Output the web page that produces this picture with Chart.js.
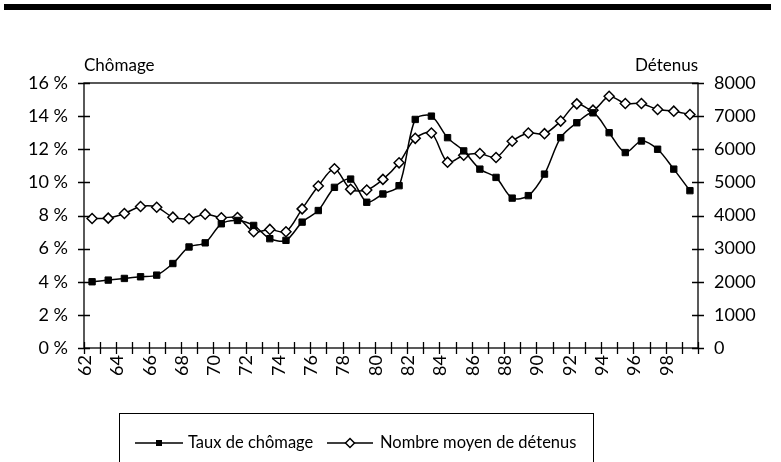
<!DOCTYPE html>
<html>
<head>
<meta charset="utf-8">
<script src="https://cdn.jsdelivr.net/npm/chart.js@4.4.1/dist/chart.umd.min.js"></script>
<style>
  html, body { margin: 0; padding: 0; background: #fff; }
  #wrap { width: 781px; height: 462px; }
</style>
</head>
<body>
<div id="wrap"><canvas id="chart" width="781" height="462"></canvas></div>
<script>
// years 1962 -> 1999
let years = ["62","63","64","65","66","67","68","69","70","71","72","73","74","75","76","77","78","79","80",
  "81","82","83","84","85","86","87","88","89","90","91","92","93","94","95","96","97","98","99"];

// taux de chomage (%)
let chomage = [4.0, 4.1, 4.2, 4.3, 4.4, 5.1, 6.1, 6.35, 7.5, 7.7, 7.4, 6.6, 6.5, 7.6, 8.3, 9.7, 10.2, 8.8, 9.3,
  9.8, 13.8, 14.0, 12.7, 11.9, 10.8, 10.3, 9.05, 9.2, 10.5, 12.7, 13.6, 14.2, 13.0, 11.8, 12.5, 12.0, 10.8, 9.5];

// nombre moyen de detenus
let detenus = [3910, 3920, 4060, 4270, 4250, 3950, 3900, 4040, 3930, 3940, 3510, 3580, 3510, 4200, 4890, 5410, 4790, 4770, 5090,
  5590, 6330, 6490, 5610, 5820, 5870, 5750, 6240, 6490, 6470, 6850, 7370, 7180, 7600, 7380, 7380, 7200, 7150, 7050];

let leftTicks = [0, 2, 4, 6, 8, 10, 12, 14, 16];
let rightTicks = [0, 1000, 2000, 3000, 4000, 5000, 6000, 7000, 8000];

let fontFamily = "Lato, 'Noto Sans', sans-serif";

// draws the frame, cross ticks, axis titles, top rule and the legend box
let decor = {
  id: "decor",
  afterDraw(chart) {
    let ctx = chart.ctx;
    let a = chart.chartArea;
    let sx = chart.scales.x;
    let sy = chart.scales.y;
    let sy1 = chart.scales.y1;

    ctx.save();
    ctx.fillStyle = "#000";
    ctx.fillRect(4, 4, 767, 6);

    ctx.strokeStyle = "#000";
    ctx.lineWidth = 1.3;
    ctx.strokeRect(a.left, a.top, a.right - a.left, a.bottom - a.top);

    ctx.beginPath();
    leftTicks.forEach(v => {
      let y = Math.round(sy.getPixelForValue(v)) + 0.5;
      ctx.moveTo(a.left - 6, y);
      ctx.lineTo(a.left + 6, y);
    });
    rightTicks.forEach(v => {
      let y = Math.round(sy1.getPixelForValue(v)) + 0.5;
      ctx.moveTo(a.right - 6, y);
      ctx.lineTo(a.right + 6, y);
    });
    let n = years.length;
    for (let i = 0; i <= n; i++) {
      let x = Math.round(sx.left + i * (sx.right - sx.left) / n) + 0.5;
      ctx.moveTo(x, a.bottom - 6);
      ctx.lineTo(x, a.bottom + 6);
    }
    ctx.stroke();

    ctx.font = "17px " + fontFamily;
    ctx.textBaseline = "alphabetic";
    ctx.textAlign = "left";
    ctx.fillText("Chômage", a.left, 71);
    ctx.textAlign = "right";
    ctx.fillText("Détenus", a.right, 71);

    // legend
    ctx.font = "16.5px " + fontFamily;
    ctx.lineWidth = 1;
    ctx.strokeRect(119.5, 413.5, 474, 60);
    ctx.lineWidth = 1.5;
    ctx.beginPath();
    ctx.moveTo(135, 443);
    ctx.lineTo(183, 443);
    ctx.moveTo(327, 443);
    ctx.lineTo(373, 443);
    ctx.stroke();
    ctx.fillRect(156, 440, 6, 6);
    ctx.beginPath();
    ctx.moveTo(350, 438.5);
    ctx.lineTo(354.5, 443);
    ctx.lineTo(350, 447.5);
    ctx.lineTo(345.5, 443);
    ctx.closePath();
    ctx.fillStyle = "#fff";
    ctx.fill();
    ctx.stroke();
    ctx.fillStyle = "#000";
    ctx.textAlign = "left";
    ctx.textBaseline = "middle";
    ctx.fillText("Taux de chômage", 188, 443);
    ctx.fillText("Nombre moyen de détenus", 380, 443);
    ctx.restore();
  }
};

let tickFont = { family: fontFamily, size: 18 };

new Chart(document.getElementById("chart"), {
  type: "line",
  data: {
    labels: years,
    datasets: [
      {
        label: "Taux de chômage",
        data: chomage,
        yAxisID: "y",
        borderColor: "#000",
        borderWidth: 1.5,
        tension: 0.3,
        pointStyle: "rect",
        pointRadius: 4.5,
        pointBackgroundColor: "#000",
        pointBorderColor: "#000",
        pointBorderWidth: 1
      },
      {
        label: "Nombre moyen de détenus",
        data: detenus,
        yAxisID: "y1",
        borderColor: "#000",
        borderWidth: 1.5,
        tension: 0.3,
        pointStyle: "rectRot",
        pointRadius: 5,
        pointBackgroundColor: "#fff",
        pointBorderColor: "#000",
        pointBorderWidth: 1.5
      }
    ]
  },
  options: {
    responsive: false,
    animation: false,
    layout: { padding: { top: 83, left: 0, right: 0, bottom: 0 } },
    plugins: {
      legend: { display: false },
      tooltip: { enabled: false }
    },
    scales: {
      x: {
        offset: true,
        grid: { display: false, drawTicks: false },
        border: { display: false },
        ticks: {
          autoSkip: false,
          maxRotation: 90,
          minRotation: 90,
          padding: 7,
          labelOffset: -7,
          color: "#000",
          font: tickFont,
          callback: (v, i) => (i % 2 === 0 ? years[i] : "")
        },
        afterFit: s => { s.height = 114; }
      },
      y: {
        position: "left",
        min: 0,
        max: 16,
        grid: { display: false, drawTicks: false },
        border: { display: false },
        ticks: {
          stepSize: 2,
          padding: 16,
          color: "#000",
          font: tickFont,
          callback: v => v + " %"
        },
        afterFit: s => { s.width = 84; }
      },
      y1: {
        position: "right",
        min: 0,
        max: 8000,
        grid: { display: false, drawTicks: false },
        border: { display: false },
        ticks: {
          stepSize: 1000,
          padding: 16,
          color: "#000",
          font: tickFont,
          callback: v => String(v)
        },
        afterFit: s => { s.width = 83; }
      }
    }
  },
  plugins: [decor]
});
</script>
</body>
</html>
